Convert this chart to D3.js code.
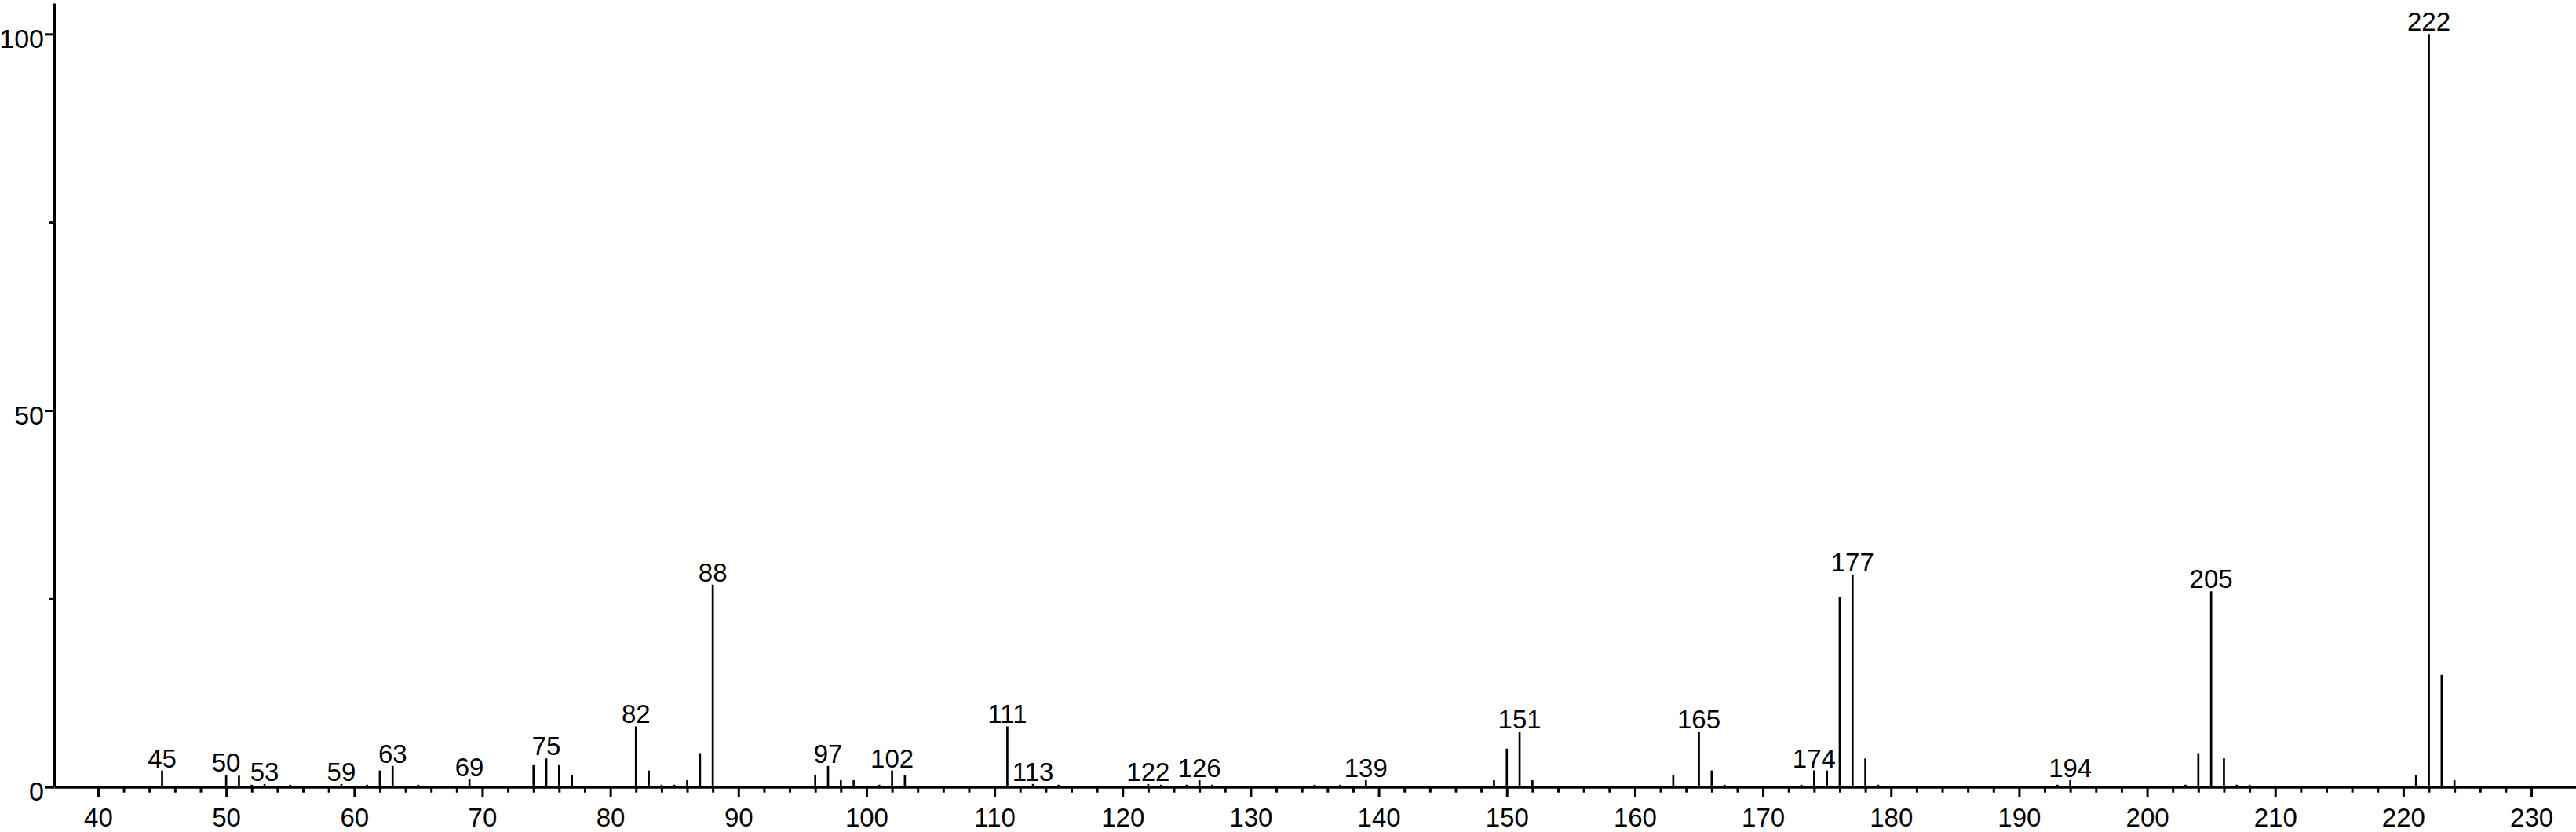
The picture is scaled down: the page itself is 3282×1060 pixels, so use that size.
<!DOCTYPE html>
<html>
<head>
<meta charset="utf-8">
<script src="https://cdn.jsdelivr.net/npm/d3@7"></script>
<style>
  html, body { margin: 0; padding: 0; background: #fff; }
  svg { display: block; }
  text { font-family: "Liberation Sans", Arial, Helvetica, sans-serif; fill: #000; }
</style>
</head>
<body>
<svg id="chart" width="3282" height="1060"></svg>
<script>
// m/z values of peaks
const mz = [45, 50, 51, 52, 53, 55, 59, 61, 62, 63, 65, 69, 74, 75, 76, 77,
  82, 83, 84, 85, 86, 87, 88, 96, 97, 98, 99, 101, 102, 103, 111, 113, 115,
  122, 123, 125, 126, 127, 135, 137, 139, 149, 150, 151, 152, 163, 165, 166,
  167, 173, 174, 175, 176, 177, 178, 179, 193, 194, 203, 204, 205, 206, 207,
  208, 221, 222, 223, 224];
// relative intensities (%)
const intensity = [2.2, 1.6, 1.5, 0.3, 0.4, 0.3, 0.4, 0.3, 2.2, 2.8, 0.3, 1.0, 2.9, 3.8, 2.9, 1.6,
  8.05, 2.2, 0.3, 0.3, 0.9, 4.5, 26.9, 1.6, 2.8, 0.9, 0.9, 0.3, 2.2, 1.6, 8.05, 0.4, 0.3,
  0.4, 0.3, 0.3, 0.9, 0.3, 0.3, 0.3, 0.9, 0.9, 5.1, 7.35, 0.9, 1.6, 7.35, 2.2,
  0.3, 0.3, 2.2, 2.2, 25.3, 28.25, 3.8, 0.3, 0.3, 0.9, 0.3, 4.5, 26.0, 3.8, 0.3,
  0.3, 1.6, 100, 14.9, 0.9];
// peaks that carry a text label
const labeledPeaks = [45, 50, 53, 59, 63, 69, 75, 82, 88, 97, 102, 111, 113, 122,
  126, 139, 151, 165, 174, 177, 194, 205, 222];
// axis ticks
const xMajorTicks = [40, 50, 60, 70, 80, 90, 100, 110, 120, 130, 140, 150, 160,
  170, 180, 190, 200, 210, 220, 230];
const xMinorTicks = [42, 44, 46, 48, 52, 54, 56, 58, 62, 64, 66, 68, 72, 74, 76, 78,
  82, 84, 86, 88, 92, 94, 96, 98, 102, 104, 106, 108, 112, 114, 116, 118, 122, 124,
  126, 128, 132, 134, 136, 138, 142, 144, 146, 148, 152, 154, 156, 158, 162, 164,
  166, 168, 172, 174, 176, 178, 182, 184, 186, 188, 192, 194, 196, 198, 202, 204,
  206, 208, 212, 214, 216, 218, 222, 224, 226, 228];
const yMajorTicks = [0, 50, 100];
const yMinorTicks = [25, 75];

const peaks = mz.map((m, i) => ({ mz: m, v: intensity[i] }));

const svg = d3.select("#chart");
const x = d3.scaleLinear().domain([36.57, 233.49]).range([69, 3282]);
const y = d3.scaleLinear().domain([0, 104.1]).range([1002.7, 4]);

// peaks
svg.append("g").selectAll("line").data(peaks).join("line")
  .attr("x1", d => x(d.mz)).attr("x2", d => x(d.mz))
  .attr("y1", y(0)).attr("y2", d => y(d.v))
  .attr("stroke", "#000").attr("stroke-width", 2.7);

// peak labels
svg.append("g").selectAll("text")
  .data(peaks.filter(d => labeledPeaks.includes(d.mz))).join("text")
  .attr("x", d => x(d.mz)).attr("y", d => y(d.v) - 4)
  .attr("text-anchor", "middle")
  .style("font-size", "33px")
  .text(d => d.mz);

// x axis
const gxMinor = svg.append("g").attr("transform", `translate(0,${y(0)})`)
  .call(d3.axisBottom(x).tickValues(xMinorTicks).tickSizeInner(7).tickSizeOuter(0).tickFormat(""));
gxMinor.select(".domain").remove();
const gx = svg.append("g").attr("transform", `translate(0,${y(0)})`)
  .call(d3.axisBottom(x).tickValues(xMajorTicks).tickSizeInner(13).tickSizeOuter(0));
gx.selectAll(".tick text").attr("y", 50).attr("dy", 0)
  .style("font-size", "33px").style("font-family", "'Liberation Sans', Arial, sans-serif").attr("fill", "#000");

// y axis
const gyMinor = svg.append("g").attr("transform", `translate(${x.range()[0]},0)`)
  .call(d3.axisLeft(y).tickValues(yMinorTicks).tickSizeInner(6).tickSizeOuter(0).tickFormat(""));
gyMinor.select(".domain").remove();
const gy = svg.append("g").attr("transform", `translate(${x.range()[0]},0)`)
  .call(d3.axisLeft(y).tickValues(yMajorTicks).tickSizeInner(12).tickSizeOuter(0));
gy.selectAll(".tick text").attr("x", -13).attr("dy", "0.5em")
  .style("font-size", "34px").style("font-family", "'Liberation Sans', Arial, sans-serif").attr("fill", "#000");

svg.selectAll(".domain, .tick line").attr("stroke", "#000").attr("stroke-width", 3);
</script>
</body>
</html>
